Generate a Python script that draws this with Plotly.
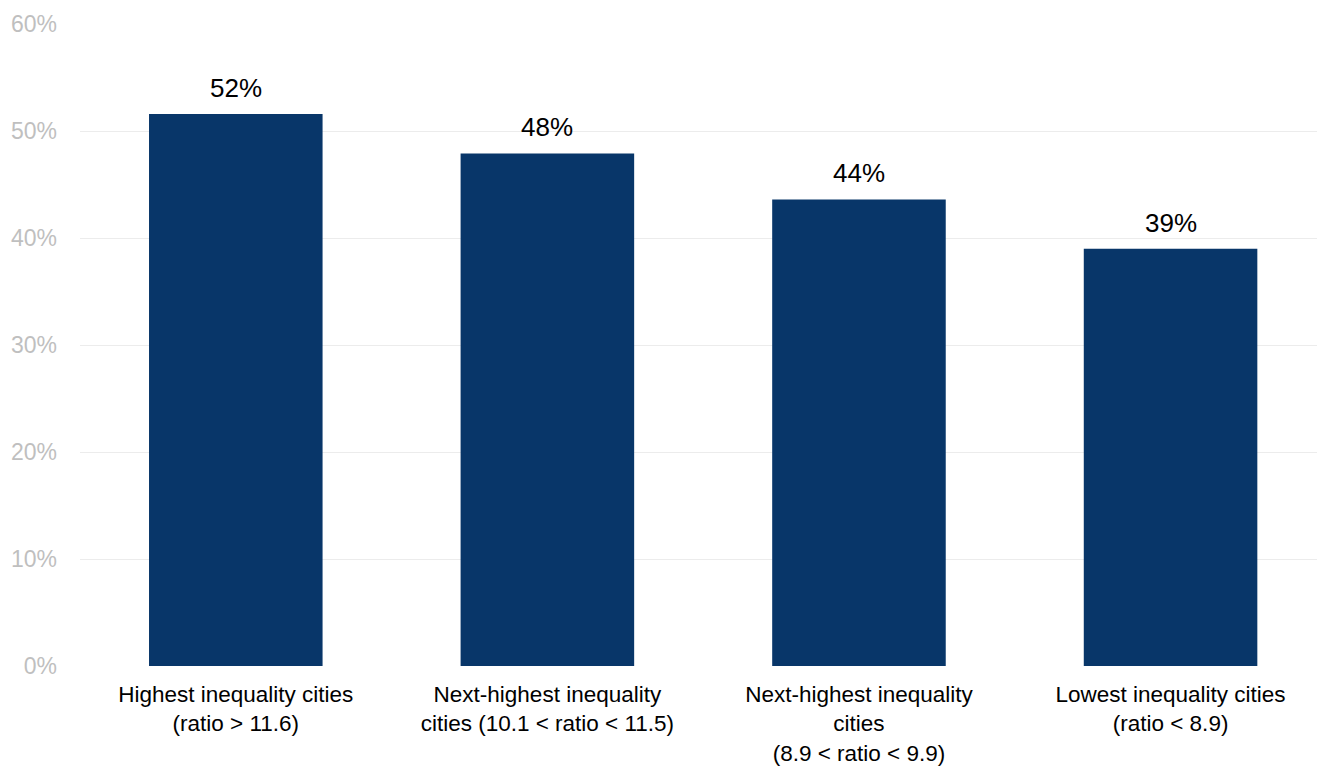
import plotly.graph_objects as go

categories = [
    "Highest inequality cities<br>(ratio > 11.6)",
    "Next-highest inequality<br>cities (10.1 < ratio < 11.5)",
    "Next-highest inequality<br>cities<br>(8.9 < ratio < 9.9)",
    "Lowest inequality cities<br>(ratio < 8.9)",
]
shares = [0.516, 0.479, 0.436, 0.39]
labels = ["52%", "48%", "44%", "39%"]
y_ticks = [0, 0.1, 0.2, 0.3, 0.4, 0.5, 0.6]

FONT = "Liberation Sans, Arial, sans-serif"
xpos = list(range(len(categories)))

fig = go.Figure()
fig.add_trace(go.Bar(
    x=xpos,
    y=shares,
    width=0.557,
    marker=dict(color="#083669", line=dict(width=0)),
    hoverinfo="skip",
))

for xi, yi, lab in zip(xpos, shares, labels):
    fig.add_annotation(
        x=xi, y=yi, text=lab, showarrow=False,
        xanchor="center", yanchor="bottom", yshift=9,
        font=dict(family=FONT, size=26, color="#000000"),
    )

fig.update_layout(
    width=1317, height=767,
    margin=dict(l=80, r=0, t=24, b=101),
    paper_bgcolor="white", plot_bgcolor="white",
    showlegend=False,
    font=dict(family=FONT, size=22, color="#000000"),
    xaxis=dict(
        tickmode="array", tickvals=xpos, ticktext=categories,
        range=[-0.5, 3.47], showgrid=False, zeroline=False, showline=False,
        tickfont=dict(family=FONT, size=22.5, color="#000000"),
        ticks="outside", ticklen=8, tickcolor="rgba(0,0,0,0)",
        automargin=False,
    ),
    yaxis=dict(
        range=[0, 0.6], tickvals=y_ticks, tickformat=".0%",
        showgrid=True, gridcolor="#ececec", gridwidth=1,
        zeroline=False, showline=False,
        tickfont=dict(family=FONT, size=23, color="#bfbfbf"),
        ticklabelstandoff=22, automargin=False,
    ),
)

fig.write_html("out.html")
